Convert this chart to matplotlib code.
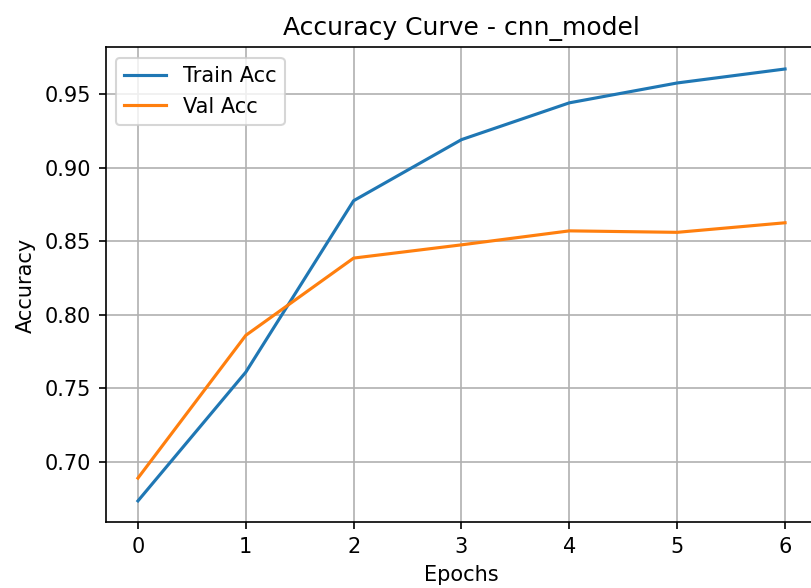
import matplotlib
matplotlib.use("Agg")
import matplotlib.pyplot as plt

model_name = "cnn_model"
epochs = [0, 1, 2, 3, 4, 5, 6]
train_acc = [0.6735, 0.7610, 0.8775, 0.9190, 0.9440, 0.9575, 0.9670]
val_acc = [0.6890, 0.7860, 0.8385, 0.8475, 0.8570, 0.8560, 0.8625]

fig = plt.figure(figsize=(811 / 150, 588 / 150), dpi=150)
ax = fig.add_axes([0.1302, 0.1114, 0.8777, 0.808])

ax.plot(epochs, train_acc, label="Train Acc")
ax.plot(epochs, val_acc, label="Val Acc")

ax.set_title(f"Accuracy Curve - {model_name}")
ax.set_xlabel("Epochs")
ax.set_ylabel("Accuracy")
ax.legend(loc="upper left")
ax.grid(True)

fig.savefig("out.png", dpi=150)
